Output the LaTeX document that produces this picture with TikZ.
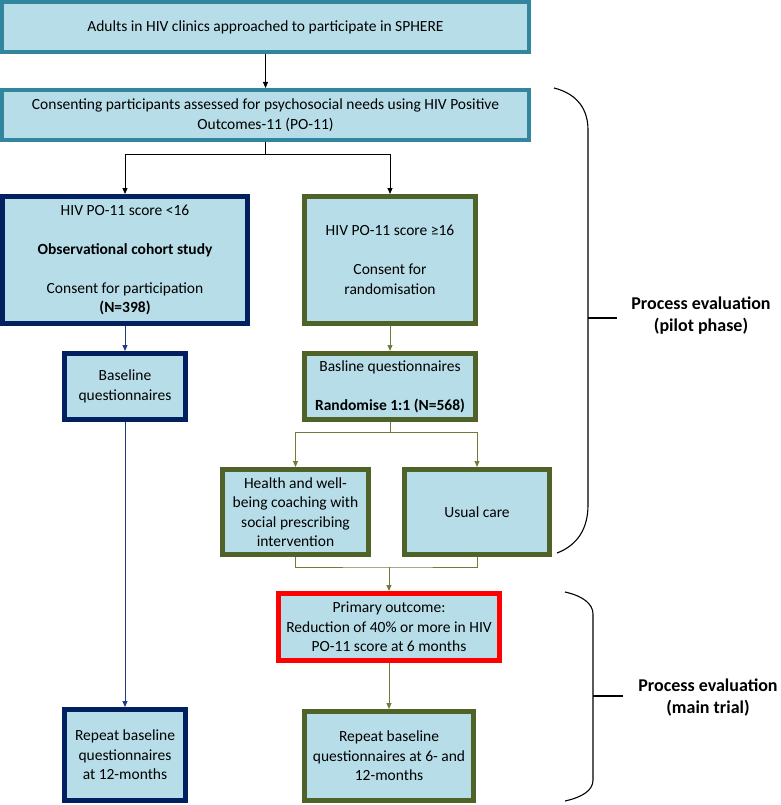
\documentclass[tikz,border=0pt]{standalone}
\usepackage{fontspec}
\setmainfont{Carlito}
\usepackage{xcolor}
\usepackage{tikz}
\usetikzlibrary{calc, arrows.meta}

\definecolor{boxfill}{HTML}{B7DEE8}
\definecolor{tealline}{HTML}{31859C}
\definecolor{navyline}{HTML}{002060}
\definecolor{oliveline}{HTML}{4F6228}
\definecolor{navylink}{HTML}{203D80}
\definecolor{olivelink}{HTML}{6B7F3A}

\tikzset{
	box/.style = {draw, fill = boxfill, align = center, inner sep = 2pt,
		font = \fontsize{15.5}{19.5}\selectfont},
	tealbox/.style = {box, draw = tealline, line width = 4pt},
	navybox/.style = {box, draw = navyline, line width = 5pt},
	olivebox/.style = {box, draw = oliveline, line width = 5pt},
	redbox/.style = {box, draw = red, line width = 5pt},
	link/.style = {line width = 1pt},
	tip/.style = {-{Triangle[length = 6pt, width = 5pt]}},
	brace/.style = {line width = 1.1pt, black},
	phase/.style = {align = center, font = \fontsize{18}{22}\selectfont\bfseries}
}

\begin{document}
\begin{tikzpicture}[x = 1pt, y = -1pt]
			\useasboundingbox (0,0) rectangle (780,805);

			\node [tealbox, minimum width = 527pt, minimum height = 50pt] (approach) at (265.5,27)
				{Adults in HIV clinics approached to participate in SPHERE};
			\node [tealbox, minimum width = 527pt, minimum height = 50pt] (consent) at (265.5,115)
				{Consenting participants assessed for psychosocial needs using HIV Positive\\ Outcomes-11 (PO-11)};

			\node [navybox, minimum width = 245pt, minimum height = 127pt] (lowscore) at (125,260)
				{HIV PO-11 score <16\\[19.5pt] \textbf{Observational cohort study}\\[19.5pt] Consent for participation\\ \textbf{(N=398)}};
			\node [olivebox, minimum width = 171pt, minimum height = 127pt] (highscore) at (390,260)
				{HIV PO-11 score ≥16\\[19.5pt] Consent for\\ randomisation};

			\node [navybox, minimum width = 121pt, minimum height = 66pt] (basenavy) at (125,386.5)
				{Baseline\\ questionnaires};
			\node [olivebox, minimum width = 171pt, minimum height = 66pt] (basegreen) at (390,386.5)
				{Basline questionnaires\\[19.5pt] \textbf{Randomise 1:1 (N=568)}};

			\node [olivebox, minimum width = 146pt, minimum height = 85pt] (coaching) at (295.5,512)
				{Health and well-\\ being coaching with\\ social prescribing\\ intervention};
			\node [olivebox, minimum width = 145pt, minimum height = 85pt] (usual) at (477,512)
				{Usual care};

			\node [redbox, minimum width = 221pt, minimum height = 67pt] (primary) at (389,627)
				{Primary outcome:\\ Reduction of 40\% or more in HIV\\ PO-11 score at 6 months};
			\node [olivebox, minimum width = 169pt, minimum height = 89pt] (repeatgreen) at (389,756)
				{Repeat baseline\\ questionnaires at 6- and\\ 12-months};
			\node [navybox, minimum width = 121pt, minimum height = 91pt] (repeatnavy) at (125,755)
				{Repeat baseline\\ questionnaires\\ at 12-months};

			\begin{scope}[link]
				\draw [tip] (approach) -- (consent);
				\coordinate (split) at ($(consent.south) + (0,13)$);
				\draw (consent.south) -- (split);
				\draw [tip] (split) -| (lowscore.north);
				\draw [tip] (split) -| (highscore.north);
			\end{scope}

			\begin{scope}[link, navylink]
				\draw [tip] (lowscore) -- (basenavy);
				\draw [tip] (basenavy) -- (repeatnavy);
			\end{scope}

			\begin{scope}[link, olivelink]
				\draw [tip] (highscore) -- (basegreen);
				\coordinate (fork) at ($(basegreen.south) + (0,10)$);
				\draw (basegreen.south) -- (fork);
				\draw [tip] (fork) -| (coaching.north);
				\draw [tip] (fork) -| (usual.north);
				\coordinate (merge) at ($(primary.north) + (0,-24)$);
				\draw (coaching.south) |- (merge) -| (usual.south);
				\draw [tip] (merge) -- (primary);
				\draw [tip] (primary) -- (repeatgreen);
			\end{scope}

			\draw [brace] (554,88) .. controls (578,94) and (588,110) .. (588,130) -- (588,505)
				.. controls (588,528) and (578,545) .. (557,553);
			\draw [brace] (588,318) -- (617,318);
			\node [phase] (pilot) at (701,316) {Process evaluation\\ (pilot phase)};

			\draw [brace] (565,592) .. controls (583,596) and (593,604) .. (593,614) -- (593,780)
				.. controls (593,790) and (583,797) .. (565,801);
			\draw [brace] (593,696) -- (623,696);
			\node [phase] (maintrial) at (708,698) {Process evaluation\\ (main trial)};
		\end{tikzpicture}
\end{document}
